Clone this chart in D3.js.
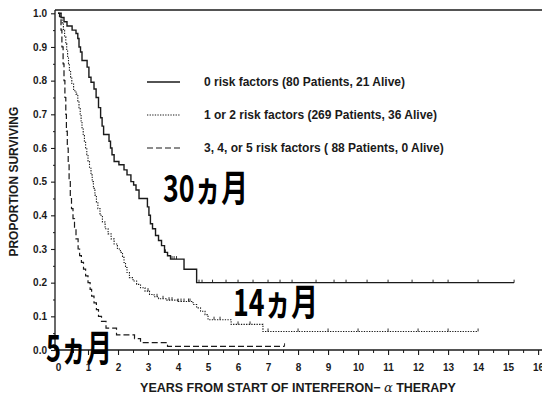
<!DOCTYPE html>
<html>
<head>
<meta charset="utf-8">
<script src="https://cdn.jsdelivr.net/npm/d3@7"></script>
<style>
  html, body { margin: 0; padding: 0; background: #fff; }
  svg { display: block; }
  .tick text { font-family: "Liberation Sans", Arial, sans-serif; font-weight: bold; font-size: 10px; fill: #1a1a1a; }
</style>
</head>
<body>
<svg id="chart" width="542" height="396"></svg>
<script>
// Kaplan–Meier survival by number of risk factors.
// Each step list holds [years, proportion surviving after the drop].
const groupNames = [
  "0 risk factors (80 Patients, 21 Alive)",
  "1 or 2 risk factors (269 Patients, 36 Alive)",
  "3, 4, or 5 risk factors ( 88 Patients, 0 Alive)"
];

const stepsZero = [
  [0.10,0.9875],[0.20,0.975],[0.30,0.9625],[0.47,0.95],[0.60,0.94],[0.66,0.925],[0.70,0.90],
  [0.75,0.885],[0.80,0.86],[0.97,0.84],[1.03,0.81],[1.10,0.795],[1.20,0.775],[1.27,0.75],
  [1.35,0.72],[1.42,0.69],[1.47,0.665],[1.52,0.64],[1.70,0.62],[1.75,0.60],[1.80,0.58],
  [1.87,0.56],[2.03,0.55],[2.20,0.535],[2.30,0.52],[2.43,0.50],[2.52,0.49],[2.60,0.475],
  [2.70,0.45],[2.98,0.425],[3.03,0.40],[3.08,0.375],[3.15,0.36],[3.25,0.34],[3.35,0.325],
  [3.45,0.31],[3.55,0.29],[3.65,0.28],[3.75,0.27],[4.20,0.24],[4.62,0.20]
];
const endZero = 15.2;
const censorZero = [3.58,3.80,3.87,3.95,4.70,4.80,5.15,5.60,6.00,6.50,7.00,7.40,7.80,8.60,9.20,
  9.60,10.30,11.00,11.80,12.50,13.00,14.00,15.2];

const stepsOneTwo = [
  [0.10,0.99],[0.14,0.97],[0.18,0.95],[0.22,0.93],[0.26,0.91],[0.29,0.89],[0.32,0.87],
  [0.35,0.85],[0.38,0.83],[0.42,0.81],[0.46,0.79],[0.52,0.77],[0.60,0.76],[0.66,0.74],
  [0.70,0.72],[0.74,0.70],[0.77,0.68],[0.80,0.66],[0.84,0.64],[0.88,0.62],[0.92,0.60],
  [0.96,0.58],[1.00,0.56],[1.05,0.54],[1.10,0.52],[1.14,0.50],[1.18,0.48],[1.23,0.46],
  [1.28,0.44],[1.33,0.42],[1.40,0.40],[1.48,0.38],[1.57,0.36],[1.67,0.345],[1.77,0.33],
  [1.87,0.315],[1.98,0.30],[2.08,0.29],[2.15,0.275],[2.20,0.26],[2.25,0.245],[2.30,0.23],
  [2.38,0.215],[2.50,0.205],[2.62,0.195],[2.75,0.185],[2.90,0.175],[3.05,0.165],[3.20,0.158],
  [3.35,0.152],[3.60,0.148],[4.00,0.144],[4.50,0.135],[4.62,0.125],[4.75,0.115],[4.90,0.105],
  [5.00,0.09],[5.77,0.076],[6.83,0.055]
];
const endOneTwo = 14.0;
const censorOneTwo = [3.00,3.30,3.50,3.70,3.80,4.00,4.10,4.20,4.35,4.40,5.20,5.40,6.00,6.40,
  7.00,8.00,9.00,10.00,11.00,12.00,13.00,14.00];

const stepsThreePlus = [
  [0.05,0.99],[0.10,0.95],[0.13,0.90],[0.17,0.85],[0.20,0.80],[0.23,0.75],[0.26,0.70],
  [0.28,0.65],[0.31,0.60],[0.34,0.55],[0.37,0.50],[0.41,0.45],[0.45,0.42],[0.50,0.39],
  [0.55,0.36],[0.60,0.33],[0.67,0.30],[0.72,0.28],[0.78,0.26],[0.85,0.24],[0.92,0.22],
  [1.00,0.20],[1.07,0.18],[1.12,0.16],[1.20,0.14],[1.28,0.12],[1.35,0.10],[1.45,0.085],
  [1.60,0.065],[1.95,0.045],[2.55,0.034],[2.75,0.022],[3.65,0.011]
];
const endThreePlus = 7.55;
const censorThreePlus = [7.55];

const xTicks = d3.range(0, 17);
const yTicks = [0, 0.1, 0.2, 0.3, 0.4, 0.5, 0.6, 0.7, 0.8, 0.9, 1.0];

const annotations = [
  { text: "30ヵ月", t: 3.5, p: 0.44, width: 85 },
  { text: "14ヵ月", t: 5.83, p: 0.10, width: 85 },
  { text: "5ヵ月", t: -0.4, p: -0.036, width: 66 }
];

const svg = d3.select("#chart");
const ink = "#1a1a1a";
const x = d3.scaleLinear().domain([-0.1, 16.13]).range([55, 542]);
const y = d3.scaleLinear().domain([0, 1]).range([350, 13.3]);

// frame top and axes
svg.append("line")
  .attr("x1", x(-0.1)).attr("x2", 542)
  .attr("y1", y(1.01)).attr("y2", y(1.01))
  .attr("stroke", ink).attr("stroke-width", 1.4);

const xAxis = svg.append("g").attr("transform", `translate(0,${y(0)})`)
  .call(d3.axisBottom(x).tickValues(xTicks).tickFormat(d3.format("d")).tickSize(5).tickPadding(9));
xAxis.select(".domain").attr("d", `M${x(-0.1)},0H542`).attr("stroke", ink).attr("stroke-width", 1.3);
xAxis.selectAll(".tick line").attr("stroke", ink).attr("stroke-width", 1.1);
svg.append("g").attr("transform", `translate(0,${y(0)})`)
  .call(d3.axisBottom(x).tickValues(d3.range(0.5, 16, 1)).tickFormat("").tickSize(3))
  .call(g => g.select(".domain").remove())
  .selectAll("line").attr("stroke", ink);

const yAxis = svg.append("g").attr("transform", `translate(${x(-0.1)},0)`)
  .call(d3.axisLeft(y).tickValues(yTicks).tickFormat(d3.format(".1f")).tickSize(4).tickPadding(4));
yAxis.select(".domain").attr("d", `M0,${y(0)}V${y(1.01)}`).attr("stroke", ink).attr("stroke-width", 1.3);
yAxis.selectAll(".tick line").attr("stroke", ink).attr("stroke-width", 1.1);
svg.append("g").attr("transform", `translate(${x(-0.1)},0)`)
  .call(d3.axisLeft(y).tickValues(d3.range(0.05, 1, 0.1)).tickFormat("").tickSize(2))
  .call(g => g.select(".domain").remove())
  .selectAll("line").attr("stroke", ink);

// axis titles
svg.append("text")
  .attr("transform", `translate(18,${y(0.5)}) rotate(-90)`)
  .attr("text-anchor", "middle")
  .attr("font-family", "Liberation Sans, Arial, sans-serif")
  .attr("font-weight", "bold").attr("font-size", 12).attr("fill", ink)
  .text("PROPORTION SURVIVING");

const xTitle = svg.append("text")
  .attr("x", 298).attr("y", 392)
  .attr("text-anchor", "middle")
  .attr("font-family", "Liberation Sans, Arial, sans-serif")
  .attr("font-weight", "bold").attr("font-size", 12.5).attr("fill", ink);
xTitle.append("tspan").text("YEARS FROM START OF INTERFERON\u2212 ");
xTitle.append("tspan").attr("font-family", "DejaVu Serif, serif").attr("font-style", "italic")
  .attr("font-weight", "normal").attr("font-size", 13).text("\u03b1");
xTitle.append("tspan").text(" THERAPY");

// survival curves
const groups = [
  { steps: stepsZero, end: endZero, censor: censorZero, dash: null, width: 1.4 },
  { steps: stepsOneTwo, end: endOneTwo, censor: censorOneTwo, dash: "1.3,1.3", width: 1.1 },
  { steps: stepsThreePlus, end: endThreePlus, censor: censorThreePlus, dash: "6,3", width: 1.2 }
];

const line = d3.line().x(d => x(d[0])).y(d => y(d[1])).curve(d3.curveStepAfter);

function valueAt(steps, t) {
  let v = 1;
  for (const s of steps) { if (s[0] <= t) v = s[1]; }
  return v;
}

groups.forEach(g => {
  const pts = [[0, 1], ...g.steps, [g.end, g.steps[g.steps.length - 1][1]]];
  svg.append("path")
    .attr("d", line(pts))
    .attr("fill", "none")
    .attr("stroke", ink)
    .attr("stroke-width", g.width)
    .attr("stroke-dasharray", g.dash);
  svg.append("g").selectAll("line").data(g.censor).join("line")
    .attr("x1", d => x(d)).attr("x2", d => x(d))
    .attr("y1", d => y(valueAt(g.steps, d)))
    .attr("y2", d => y(valueAt(g.steps, d)) - 3)
    .attr("stroke", ink).attr("stroke-width", 0.9);
});

// legend
const legend = svg.append("g");
groupNames.forEach((name, i) => {
  const ly = 82 + i * 33;
  legend.append("line")
    .attr("x1", 147).attr("x2", 180).attr("y1", ly).attr("y2", ly)
    .attr("stroke", ink).attr("stroke-width", groups[i].width)
    .attr("stroke-dasharray", groups[i].dash);
  legend.append("text")
    .attr("x", 204).attr("y", ly + 4)
    .attr("font-family", "Liberation Sans, Arial, sans-serif")
    .attr("font-weight", "bold").attr("font-size", 12).attr("fill", ink)
    .text(name);
});

// median survival labels
svg.append("g").selectAll("text").data(annotations).join("text")
  .attr("x", d => x(d.t)).attr("y", d => y(d.p))
  .attr("font-family", "Noto Sans CJK JP, sans-serif")
  .attr("font-weight", "bold").attr("font-size", 37).attr("fill", "#000")
  .attr("textLength", d => d.width).attr("lengthAdjust", "spacingAndGlyphs")
  .text(d => d.text);
</script>
</body>
</html>
